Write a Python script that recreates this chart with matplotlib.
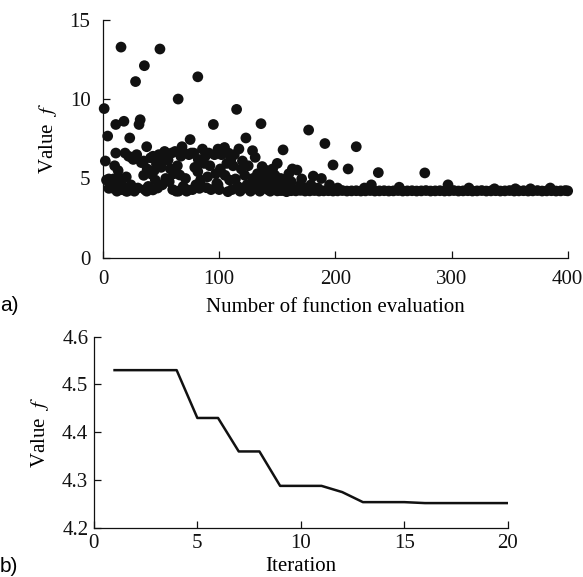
import matplotlib
matplotlib.use("Agg")
import matplotlib.pyplot as plt

# a) function value at each evaluation
eval_x = [1, 4, 2, 3, 5, 5, 7, 9, 8, 10, 11, 11,
          12, 13, 14, 15, 15.5, 16, 18, 17, 19, 20, 20,
          21, 22, 23, 24, 25, 26, 27, 28, 29, 30, 31, 32,
          33, 35, 35, 35.6, 36, 37.6, 37.6, 38, 39,
          41, 42, 43, 43, 44, 45, 46, 47, 48, 49, 50,
          51, 52, 53, 54, 55, 56, 57, 58, 59, 60,
          61, 62, 63, 64, 64.7, 65, 66, 67, 68, 69,
          70, 71, 72, 73, 74, 75, 76, 77, 78, 79,
          80, 81.6, 81.6, 82, 83, 84, 85.6, 86, 87, 88, 89,
          90, 91, 92, 93, 95, 96, 97, 98, 99, 99,
          100, 101, 102, 104.6, 105, 106.6, 107.5, 108, 109, 110,
          111, 112, 113, 114, 115, 116, 117, 118, 119, 120,
          121, 122, 123, 124, 125, 126, 127, 128.7, 129, 130,
          131, 132, 133, 134, 135, 136, 137, 138, 139, 140,
          141, 142, 143, 144, 145, 146, 147, 148, 149, 150,
          151, 152, 153, 155, 156, 157, 158, 159, 160,
          162, 163, 165, 167, 170, 171, 174, 177, 179, 181,
          185, 188, 191, 195, 198, 202, 211, 218, 225, 231,
          237, 255, 277, 297, 315, 337, 355, 368, 385]
eval_f = [9.4, 7.67, 6.1, 4.9, 4.97, 4.38, 4.6, 4.97, 4.4, 5.8, 6.6, 8.4,
          4.2, 5.5, 5.0, 4.7, 13.27, 4.3, 8.6, 4.5, 6.6, 4.2, 5.1,
          4.2, 6.4, 7.55, 4.6, 6.3, 6.2, 4.2, 11.1, 6.5, 4.4, 8.4, 8.7,
          6.0, 6.1, 5.2, 12.1, 4.3, 7.0, 4.2, 5.6, 4.5,
          6.3, 5.26, 6.4, 4.28, 5.5, 4.9, 5.9, 4.4, 6.5, 13.15, 5.7,
          4.6, 6.1, 6.7, 5.0, 6.3, 6.16, 4.8, 5.6, 6.6, 4.3,
          5.3, 6.7, 4.2, 5.8, 10.0, 4.2, 5.22, 6.4, 7.0, 4.5,
          6.6, 5.0, 4.2, 4.28, 6.5, 7.45, 6.6, 4.3, 6.6, 5.7,
          4.6, 11.4, 5.43, 6.2, 4.38, 4.9, 6.85, 6.0, 5.95, 6.4, 4.42,
          5.1, 6.6, 5.8, 4.3, 8.4, 6.5, 5.3, 4.7, 6.85, 4.6,
          4.3, 5.6, 6.5, 6.95, 5.2, 5.95, 4.17, 6.6, 4.9, 6.2,
          4.3, 5.8, 6.5, 4.97, 9.35, 4.5, 6.86, 4.2, 5.6, 6.1,
          4.4, 5.2, 7.55, 4.6, 5.8, 4.3, 4.2, 6.75, 5.0, 4.5,
          6.33, 4.8, 5.3, 4.3, 4.2, 8.45, 5.75, 4.6, 5.1, 4.4,
          5.5, 4.3, 5.0, 4.2, 4.8, 5.6, 4.4, 5.2, 4.3, 5.95,
          4.6, 4.25, 5.0, 6.8, 4.3, 4.9, 4.17, 4.6, 5.3,
          4.8, 5.6, 4.3, 5.53, 4.6, 4.97, 4.4, 8.05, 4.6, 5.15,
          4.4, 5.0, 7.2, 4.6, 5.85, 4.4, 5.6, 7.0, 4.4, 4.6,
          5.37, 4.45, 5.35, 4.6, 4.4, 4.35, 4.35, 4.35, 4.4]
# converged evaluations (plateau)
plateau_x = [150, 154, 158, 162, 166, 170, 174, 178, 182, 186, 190, 194, 198,
             202, 206, 210, 214, 218, 222, 226, 230, 234, 238, 242, 246, 250,
             254, 258, 262, 266, 270, 274, 278, 282, 286, 290, 294, 298, 302,
             306, 310, 314, 318, 322, 326, 330, 334, 338, 342, 346, 350, 354,
             358, 362, 366, 370, 374, 378, 382, 386, 390, 394, 398, 400]
plateau_f = [4.22, 4.24, 4.21, 4.23, 4.22, 4.25, 4.21, 4.22, 4.24, 4.21, 4.22,
             4.23, 4.21, 4.22, 4.24, 4.21, 4.22, 4.23, 4.21, 4.22, 4.24, 4.21,
             4.22, 4.23, 4.21, 4.22, 4.24, 4.21, 4.22, 4.23, 4.21, 4.22, 4.24,
             4.21, 4.22, 4.23, 4.21, 4.22, 4.24, 4.21, 4.22, 4.23, 4.21, 4.22,
             4.24, 4.21, 4.22, 4.23, 4.21, 4.22, 4.24, 4.21, 4.22, 4.23, 4.21,
             4.22, 4.24, 4.21, 4.22, 4.23, 4.21, 4.22, 4.24, 4.22]

# b) best value per iteration
iteration = list(range(1, 21))
best_f = [4.53, 4.53, 4.53, 4.53, 4.43, 4.43, 4.36, 4.36, 4.288, 4.288,
          4.288, 4.275, 4.254, 4.254, 4.254, 4.252, 4.252, 4.252, 4.252, 4.252]

plt.rcParams['font.family'] = ['Liberation Serif', 'DejaVu Serif']
plt.rcParams['mathtext.fontset'] = 'stix'
plt.rcParams['font.size'] = 15
ink = '#111111'

fig = plt.figure(figsize=(5.83, 5.77), dpi=100)

ax1 = fig.add_axes([0.1767, 0.553, 0.797, 0.413])
ax1.scatter(eval_x, eval_f, s=60, color=ink, edgecolors='none', clip_on=False, zorder=3)
ax1.scatter(plateau_x, plateau_f, s=60, color=ink, edgecolors='none', clip_on=False, zorder=3)
ax1.set_xlim(0, 400)
ax1.set_ylim(0, 15)
ax1.set_xticks([0, 100, 200, 300, 400])
ax1.set_yticks([0, 5, 10, 15])
ax1.set_xlabel('Number of function evaluation', labelpad=6)
ax1.set_ylabel(r'Value  $f$', labelpad=8)

ax2 = fig.add_axes([0.161, 0.085, 0.71, 0.3315])
ax2.plot(iteration, best_f, color=ink, lw=1.8)
ax2.set_xlim(0, 20)
ax2.set_ylim(4.2, 4.6)
ax2.set_xticks([0, 5, 10, 15, 20])
ax2.set_yticks([4.2, 4.3, 4.4, 4.5, 4.6])
ax2.set_xlabel('Iteration', labelpad=3)
ax2.set_ylabel(r'Value  $f$', labelpad=8)

for ax in (ax1, ax2):
    for side in ('top', 'right'):
        ax.spines[side].set_visible(False)
    for side in ('left', 'bottom'):
        ax.spines[side].set_linewidth(0.9)
        ax.spines[side].set_color(ink)
    ax.tick_params(direction='in', length=5, width=0.9, colors=ink, pad=4)
ax1.tick_params(axis='x', pad=9)
ax1.tick_params(axis='y', pad=9)

fig.text(0.0, 0.47, 'a)', family='Liberation Sans', fontsize=15, va='center')
fig.text(0.0, 0.018, 'b)', family='Liberation Sans', fontsize=15, va='center')

fig.savefig('out.png', dpi=100)
